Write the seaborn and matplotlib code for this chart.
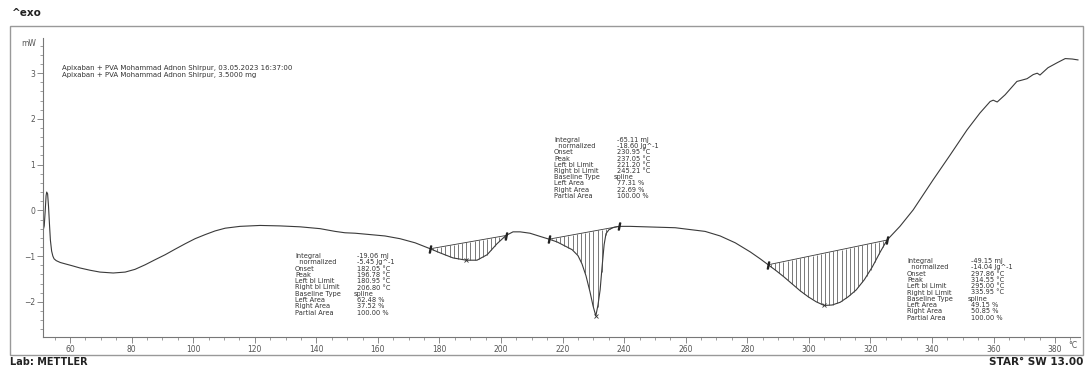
import numpy as np
import matplotlib
matplotlib.use("Agg")
import matplotlib.pyplot as plt
from matplotlib.patches import Rectangle
from matplotlib.ticker import MultipleLocator
import seaborn as sns

# ---------------- data ----------------
temp_c = [51.2, 51.6, 51.9, 52.2, 52.4, 52.7, 53.0, 53.3, 53.6, 54.0, 54.4, 54.8,
          55.5, 56.8, 58.4, 60.6, 63.2, 66.5, 69.7, 74.0, 77.9, 81.1, 84.4, 87.6,
          90.9, 94.1, 97.4, 100.6, 103.9, 107.1, 110.4, 115.2, 121.7, 128.2, 134.7,
          141.2, 146.1, 149.3, 152.6, 157.5, 162.3, 167.2, 172.1, 177.0, 180.2,
          184.4, 188.7, 192.2, 195.5, 198.7, 201.6, 203.9, 206.2, 209.4, 212.7,
          215.6, 218.2, 220.8, 223.1, 225.0, 226.3, 227.6, 228.9, 229.9, 230.8,
          231.5, 232.2, 232.8, 233.5, 234.1, 235.1, 236.7, 238.4, 241.9, 246.8,
          251.7, 256.6, 261.4, 266.3, 271.2, 276.1, 281.0, 284.2, 286.8, 289.4,
          292.0, 294.6, 297.2, 299.8, 302.4, 305.0, 307.6, 310.2, 312.8, 315.4,
          318.0, 320.6, 323.2, 325.4, 329.6, 333.9, 340.4, 345.9, 351.4, 355.6,
          358.9, 359.9, 361.2, 363.8, 367.6, 369.3, 370.9, 372.9, 374.2, 375.1,
          377.7, 380.7, 383.3, 385.6, 387.5]
heat_flow_mw = [-0.45, -0.34, -0.03, 0.32, 0.40, 0.36, 0.08, -0.30, -0.65, -0.89, -1.00, -1.06,
                -1.10, -1.14, -1.17, -1.21, -1.26, -1.31, -1.35, -1.37, -1.35, -1.29, -1.19, -1.08,
                -0.97, -0.85, -0.73, -0.62, -0.53, -0.45, -0.39, -0.35, -0.33, -0.34, -0.36,
                -0.40, -0.46, -0.49, -0.50, -0.53, -0.56, -0.62, -0.71, -0.84, -0.93,
                -1.04, -1.09, -1.09, -0.97, -0.73, -0.55, -0.47, -0.47, -0.50, -0.57,
                -0.63, -0.69, -0.78, -0.86, -0.99, -1.17, -1.43, -1.78, -2.09, -2.31,
                -2.07, -1.74, -1.26, -0.75, -0.51, -0.42, -0.37, -0.35, -0.35, -0.36,
                -0.37, -0.38, -0.42, -0.46, -0.56, -0.71, -0.91, -1.06, -1.19, -1.32,
                -1.46, -1.61, -1.76, -1.89, -2.00, -2.08, -2.07, -2.01, -1.89, -1.74,
                -1.52, -1.24, -0.91, -0.65, -0.35, 0.01, 0.67, 1.21, 1.76, 2.13,
                2.38, 2.41, 2.37, 2.53, 2.82, 2.85, 2.88, 2.97, 3.00, 2.96,
                3.12, 3.23, 3.32, 3.31, 3.29]

# integration limits (positions as drawn on the temperature axis)
limit_left = [177.0, 215.6, 286.8]
limit_right = [201.6, 238.4, 325.4]

x_ticks = [60, 80, 100, 120, 140, 160, 180, 200, 220, 240, 260, 280, 300, 320, 340, 360, 380]
y_ticks = [-2, -1, 0, 1, 2, 3]

header_lines = ["Apixaban + PVA Mohammad Adnon Shirpur, 03.05.2023 16:37:00",
                "Apixaban + PVA Mohammad Adnon Shirpur, 3.5000 mg"]
result_labels = ["Integral", "  normalized", "Onset", "Peak", "Left bl Limit",
                 "Right bl Limit", "Baseline Type", "Left Area", "Right Area", "Partial Area"]
results_1 = ["-19.06 mJ", "-5.45 Jg^-1", "182.05 °C", "196.78 °C", "180.95 °C",
             "206.80 °C", "spline", "62.48 %", "37.52 %", "100.00 %"]
results_2 = ["-65.11 mJ", "-18.60 Jg^-1", "230.95 °C", "237.05 °C", "221.20 °C",
             "245.21 °C", "spline", "77.31 %", "22.69 %", "100.00 %"]
results_3 = ["-49.15 mJ", "-14.04 Jg^-1", "297.86 °C", "314.55 °C", "295.00 °C",
             "335.95 °C", "spline", "49.15 %", "50.85 %", "100.00 %"]

# ---------------- figure ----------------
sns.set_style("white")
plt.rcParams['font.family'] = ['DejaVu Sans']

W, H = 1085, 367
fig = plt.figure(figsize=(W / 100, H / 100), dpi=100)

def fx(px):
    return px / W

def fy(py):
    return 1 - py / H

ax_left, ax_right, ax_top, ax_bottom = 43, 1080, 38, 337
ax = fig.add_axes([fx(ax_left), fy(ax_bottom), (ax_right - ax_left) / W, (ax_bottom - ax_top) / H])

T = np.array(temp_c)
Y = np.array(heat_flow_mw)

sns.lineplot(x=T, y=Y, sort=False, estimator=None, ax=ax, color="#3a3a3a", linewidth=0.8)

# integrated peak areas: baseline + vertical hatching + limit and peak markers
for L, R in zip(limit_left, limit_right):
    yl, yr = np.interp(L, T, Y), np.interp(R, T, Y)
    ax.plot([L, R], [yl, yr], color="#3a3a3a", lw=0.6)
    xs = np.arange(L + 0.9, R, 1.35)
    base = yl + (yr - yl) * (xs - L) / (R - L)
    curv = np.interp(xs, T, Y)
    ax.vlines(xs, curv, base, color="#444444", lw=0.5)
    ax.plot([L, R], [yl, yr], linestyle="none", marker="$I$", markersize=5, color="#222222")
    mask = (T >= L) & (T <= R)
    i = np.argmin(np.where(mask, Y, np.inf))
    ax.plot(T[i], Y[i], linestyle="none", marker="x", markersize=3, mew=0.6, color="#333333")

ax.set_xlim(51.2, 388.1)
ax.set_ylim(-2.77, 3.77)
ax.set_xticks(x_ticks)
ax.set_yticks(y_ticks)
ax.xaxis.set_minor_locator(MultipleLocator(5))
ax.yaxis.set_minor_locator(MultipleLocator(0.2))
ax.tick_params(axis="both", which="major", length=4, width=0.6, color="#777777",
               labelsize=5.5, labelcolor="#555555", pad=1.5, direction="out")
ax.tick_params(axis="both", which="minor", length=2, width=0.5, color="#777777", direction="out")
ax.tick_params(axis="x", bottom=True, which="both")
ax.tick_params(axis="y", left=True, which="both")
for s in ["top", "right"]:
    ax.spines[s].set_visible(False)
for s in ["left", "bottom"]:
    ax.spines[s].set_color("#777777")
    ax.spines[s].set_linewidth(0.8)
ax.grid(False)
ax.set_xlabel("")
ax.set_ylabel("")

# axis units
fig.text(fx(36), fy(43), "mW", fontsize=5.5, color="#555555", ha="right", va="center")
fig.text(fx(1073), fy(346), "°C", fontsize=5.5, color="#555555", ha="center", va="center")

# outer frame
fig.patches.append(Rectangle((fx(10), fy(355)), (1083 - 10) / W, (355 - 26) / H,
                             transform=fig.transFigure, fill=False, edgecolor="#999999", lw=1.0))

# header texts
fig.text(fx(12), fy(13), "^exo", fontsize=7.5, fontweight="bold", color="#222222", va="center")
fig.text(fx(10), fy(362), "Lab: METTLER", fontsize=7, fontweight="bold", color="#222222", va="center")
fig.text(fx(1083), fy(362), "STAR° SW 13.00", fontsize=7.5, fontweight="bold", color="#222222",
         va="center", ha="right")
for k, line in enumerate(header_lines):
    fig.text(fx(62), fy(68 + 7 * k), line, fontsize=5, color="#333333", va="center")

# result blocks
def block(x_lab, x_val, y0, values, dy=6.3):
    for k, (lab, val) in enumerate(zip(result_labels, values)):
        y = y0 + dy * k
        fig.text(fx(x_lab), fy(y), lab, fontsize=4.8, color="#333333", va="center")
        xv = x_val - 3 if val == "spline" else x_val
        fig.text(fx(xv), fy(y), val, fontsize=4.8, color="#333333", va="center")

block(295, 357, 256, results_1)
block(554, 617, 140, results_2, dy=6.2)
block(907, 971, 261, results_3)

fig.savefig("out.png", dpi=100)
